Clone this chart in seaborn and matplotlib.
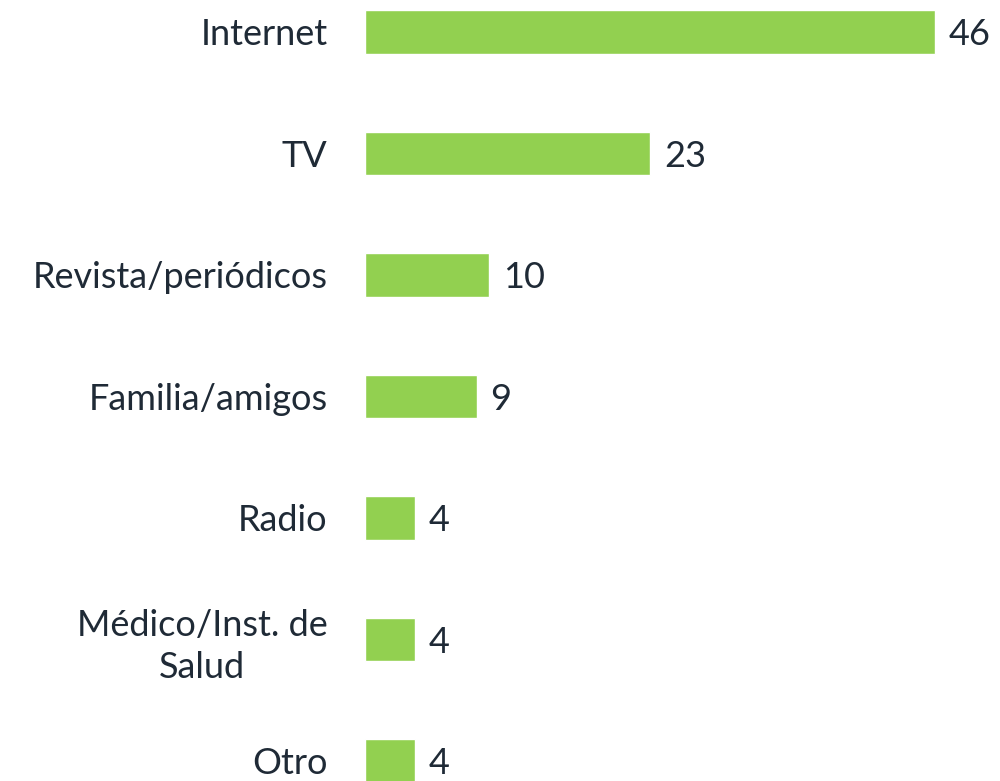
import matplotlib
matplotlib.use("Agg")
import matplotlib.pyplot as plt
import seaborn as sns
import pandas as pd

# data
categories = ["Internet", "TV", "Revista/periódicos", "Familia/amigos",
              "Radio", "Médico/Inst. de\nSalud", "Otro"]
values = [46, 23, 10, 9, 4, 4, 4]

bar_color = "#92D050"
text_color = "#1F2A36"

sns.set_style("white")
plt.rcParams['font.family'] = ['Lato', 'DejaVu Sans']

df = pd.DataFrame({"categoria": categories, "valor": values})

fig = plt.figure(figsize=(10, 7.81), dpi=100)
ax = fig.add_axes([0.365, 0, 0.62, 1])

sns.barplot(data=df, x="valor", y="categoria", color=bar_color,
            saturation=1, width=0.36, ax=ax, orient="h")

ax.set_xlim(0, 50)
ax.set_ylim(6 + 20 / 121.5, -32 / 121.5)

for i, v in enumerate(values):
    ax.text(v + 1.1, i, str(v), va="center_baseline", ha="left",
            fontsize=26, color=text_color)

ax.set_xlabel("")
ax.set_ylabel("")
ax.set_xticks([])
ax.tick_params(axis="y", length=0, pad=27, labelsize=26, labelcolor=text_color)
for lbl in ax.get_yticklabels():
    lbl.set_multialignment("center")
    lbl.set_linespacing(1.3)
sns.despine(ax=ax, left=True, bottom=True)

fig.savefig("out.png", dpi=100)
plt.close(fig)
